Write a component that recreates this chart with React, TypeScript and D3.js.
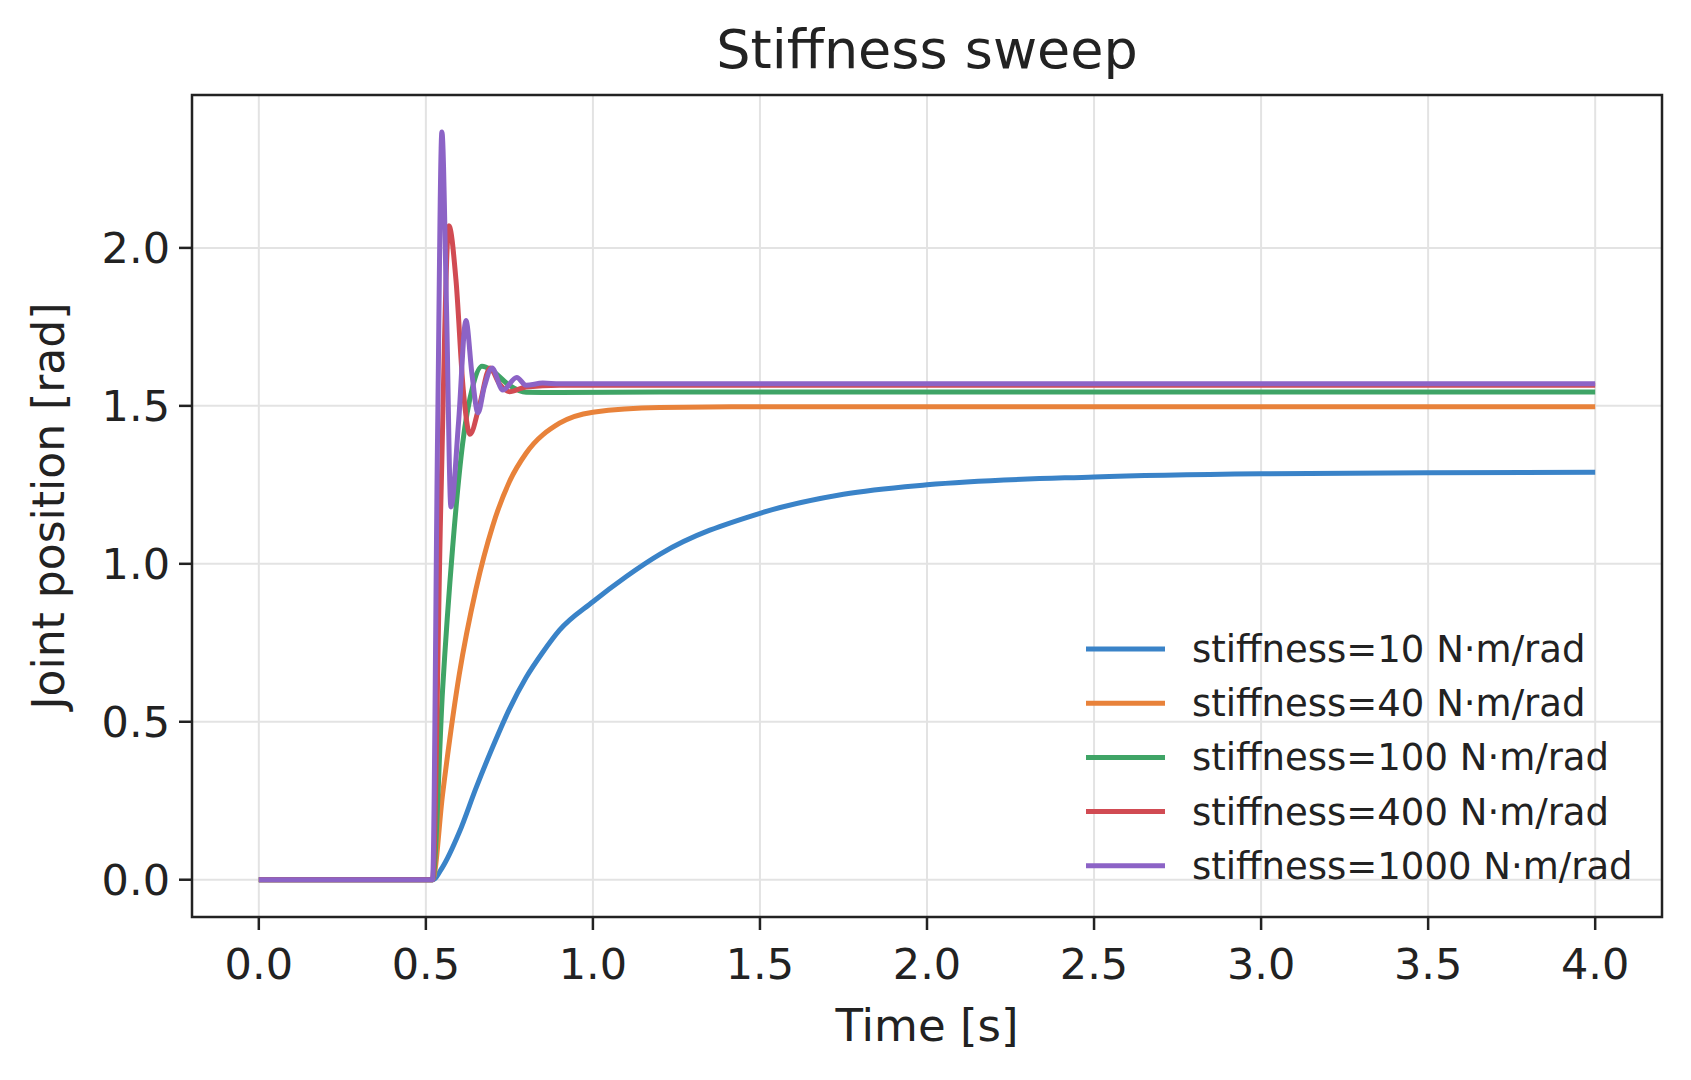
import * as d3 from "d3";
import React from "react";

const xTicks = [0, 0.5, 1, 1.5, 2, 2.5, 3, 3.5, 4];
const yTicks = [0, 0.5, 1, 1.5, 2];

const labels = [
  "stiffness=10 N·m/rad",
  "stiffness=40 N·m/rad",
  "stiffness=100 N·m/rad",
  "stiffness=400 N·m/rad",
  "stiffness=1000 N·m/rad",
];
const colors = ["#3a83c8", "#e8823a", "#3fa466", "#d14b53", "#8c63c6"];

// [time, position] samples
const k10: [number, number][] = [
  [0, 0], [0.5, 0], [0.52, 0], [0.55, 0.04], [0.6, 0.15], [0.65, 0.29], [0.7, 0.42],
  [0.75, 0.54], [0.8, 0.64], [0.85, 0.72], [0.9, 0.79], [1.0, 0.88], [1.1, 0.96], [1.2, 1.03],
  [1.5, 1.16], [1.75, 1.22], [2.0, 1.25], [2.5, 1.275], [3.0, 1.285], [3.5, 1.288], [4.0, 1.29],
];
const k40: [number, number][] = [
  [0, 0], [0.5, 0], [0.52, 0], [0.55, 0.27], [0.6, 0.65], [0.65, 0.92], [0.7, 1.12],
  [0.75, 1.26], [0.8, 1.35], [0.9, 1.445], [1.0, 1.48], [1.2, 1.495], [1.5, 1.497], [4.0, 1.497],
];
const k100: [number, number][] = [
  [0, 0], [0.5, 0], [0.52, 0], [0.55, 0.6], [0.58, 1.05], [0.61, 1.38], [0.64, 1.56],
  [0.668, 1.625], [0.7, 1.61], [0.75, 1.565], [0.8, 1.543], [0.9, 1.542], [1.2, 1.544], [4.0, 1.544],
];
const k400: [number, number][] = [
  [0, 0], [0.5, 0], [0.52, 0], [0.545, 1.2], [0.569, 2.07], [0.59, 1.9], [0.612, 1.55],
  [0.632, 1.41], [0.66, 1.5], [0.692, 1.62], [0.72, 1.57], [0.75, 1.545], [0.8, 1.56],
  [0.9, 1.565], [4.0, 1.565],
];
const k1000: [number, number][] = [
  [0, 0], [0.5, 0], [0.52, 0], [0.535, 1.4], [0.548, 2.367], [0.562, 1.8], [0.575, 1.18],
  [0.598, 1.45], [0.62, 1.77], [0.638, 1.6], [0.656, 1.478], [0.675, 1.56], [0.698, 1.62],
  [0.73, 1.55], [0.772, 1.59], [0.8, 1.565], [0.85, 1.572], [0.9, 1.57], [4.0, 1.57],
];
const series = [k10, k40, k100, k400, k1000];

const W = 1691;
const H = 1080;
const left = 192, right = 1662, top = 95, bottom = 917;

export default function App() {
  const x = d3.scaleLinear().domain([-0.2, 4.2]).range([left, right]);
  const y = d3.scaleLinear().domain([-0.118, 2.484]).range([bottom, top]);
  const line = d3
    .line<[number, number]>()
    .x((d) => x(d[0]))
    .y((d) => y(d[1]))
    .curve(d3.curveMonotoneX);
  const font = "DejaVu Sans, sans-serif";

  return (
    <svg
      width={W}
      height={H}
      style={{ position: "absolute", left: 0, top: 0, background: "#fff" }}
      fontFamily={font}
    >
      <rect x={0} y={0} width={W} height={H} fill="#fff" />
      {xTicks.map((t) => (
        <line key={"gx" + t} x1={x(t)} x2={x(t)} y1={top} y2={bottom} stroke="#e3e3e3" strokeWidth={2} />
      ))}
      {yTicks.map((t) => (
        <line key={"gy" + t} x1={left} x2={right} y1={y(t)} y2={y(t)} stroke="#e3e3e3" strokeWidth={2} />
      ))}
      <defs>
        <clipPath id="plot">
          <rect x={left} y={top} width={right - left} height={bottom - top} />
        </clipPath>
      </defs>
      <g clipPath="url(#plot)">
        {series.map((s, i) => (
          <path key={i} d={line(s) || ""} fill="none" stroke={colors[i]} strokeWidth={5} strokeLinejoin="round" />
        ))}
      </g>
      <rect x={left} y={top} width={right - left} height={bottom - top} fill="none" stroke="#222" strokeWidth={2.5} />
      {xTicks.map((t) => (
        <g key={"tx" + t}>
          <line x1={x(t)} x2={x(t)} y1={bottom} y2={bottom + 13} stroke="#222" strokeWidth={2.5} />
          <text x={x(t)} y={bottom + 62} textAnchor="middle" fontSize={43} fill="#222">
            {t.toFixed(1)}
          </text>
        </g>
      ))}
      {yTicks.map((t) => (
        <g key={"ty" + t}>
          <line x1={left - 13} x2={left} y1={y(t)} y2={y(t)} stroke="#222" strokeWidth={2.5} />
          <text x={left - 22} y={y(t) + 15} textAnchor="end" fontSize={43} fill="#222">
            {t.toFixed(1)}
          </text>
        </g>
      ))}
      <text x={(left + right) / 2} y={68} textAnchor="middle" fontSize={54} fill="#222">
        Stiffness sweep
      </text>
      <text x={(left + right) / 2} y={1041} textAnchor="middle" fontSize={45} fill="#222">
        Time [s]
      </text>
      <text
        transform={`translate(64,${(top + bottom) / 2}) rotate(-90)`}
        textAnchor="middle"
        fontSize={44}
        fill="#222"
      >
        Joint position [rad]
      </text>
      {labels.map((l, i) => {
        const ly = 649 + i * 54.2;
        return (
          <g key={l}>
            <line x1={1086} x2={1165} y1={ly} y2={ly} stroke={colors[i]} strokeWidth={5} />
            <text x={1192} y={ly + 13} fontSize={37} fill="#222">
              {l}
            </text>
          </g>
        );
      })}
    </svg>
  );
}
